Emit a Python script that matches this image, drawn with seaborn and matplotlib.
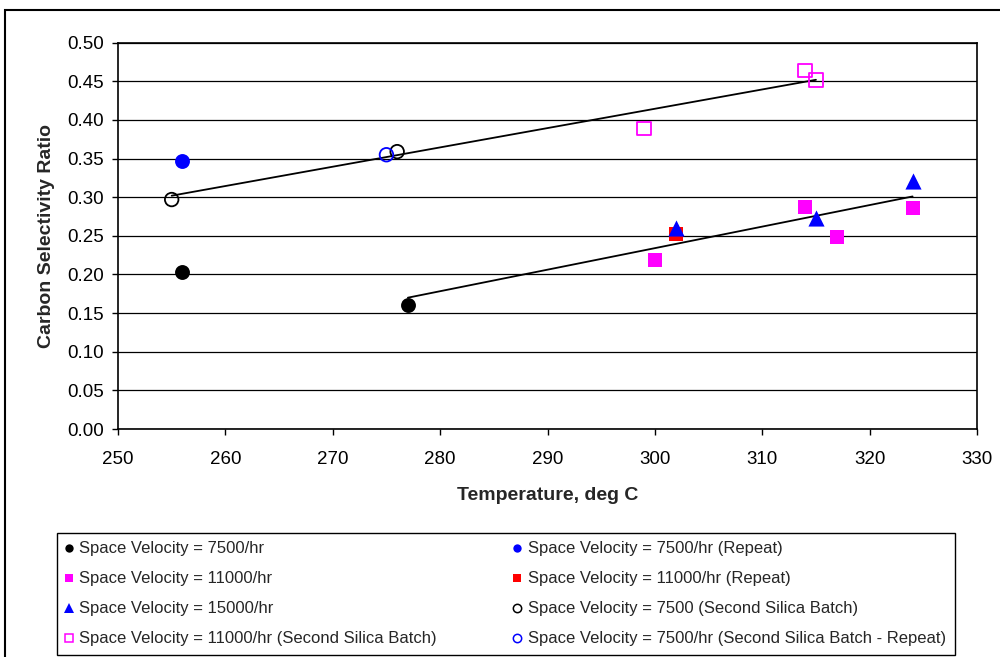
import matplotlib
matplotlib.use("Agg")
import matplotlib.pyplot as plt
from matplotlib.patches import Rectangle
import seaborn as sns

sns.set_theme(style="white")
plt.rcParams["font.family"] = ["Liberation Sans", "DejaVu Sans"]

# Measured carbon selectivity ratio vs. reactor temperature
sv7500_t = [256, 277]
sv7500_r = [0.203, 0.160]
sv7500_rep_t = [256]
sv7500_rep_r = [0.347]
sv11000_t = [300, 314, 317, 324]
sv11000_r = [0.219, 0.287, 0.249, 0.286]
sv11000_rep_t = [302]
sv11000_rep_r = [0.252]
sv15000_t = [302, 315, 324]
sv15000_r = [0.260, 0.273, 0.321]
sv7500_b2_t = [255, 276]
sv7500_b2_r = [0.297, 0.359]
sv11000_b2_t = [299, 314, 315]
sv11000_b2_r = [0.389, 0.464, 0.452]
sv7500_b2_rep_t = [275]
sv7500_b2_rep_r = [0.355]

# Linear trend lines (first silica batch, second silica batch)
trend1_t = [277, 324]
trend1_r = [0.170, 0.301]
trend2_t = [255, 315]
trend2_r = [0.302, 0.452]

labels = [
    "Space Velocity = 7500/hr",
    "Space Velocity = 7500/hr (Repeat)",
    "Space Velocity = 11000/hr",
    "Space Velocity = 11000/hr (Repeat)",
    "Space Velocity = 15000/hr",
    "Space Velocity = 7500 (Second Silica Batch)",
    "Space Velocity = 11000/hr (Second Silica Batch)",
    "Space Velocity = 7500/hr (Second Silica Batch - Repeat)",
]

x_ticks = [250, 260, 270, 280, 290, 300, 310, 320, 330]
y_ticks = [0.00, 0.05, 0.10, 0.15, 0.20, 0.25, 0.30, 0.35, 0.40, 0.45, 0.50]

fig = plt.figure(figsize=(10, 6.57), dpi=100)
ax = fig.add_axes([0.118, 0.347, 0.859, 0.588])

# horizontal gridlines
ax.set_axisbelow(True)
ax.yaxis.grid(True, color="black", linewidth=0.9)
ax.xaxis.grid(False)

# trend lines
sns.lineplot(x=trend1_t, y=trend1_r, color="black", linewidth=1.3, ax=ax, zorder=3)
sns.lineplot(x=trend2_t, y=trend2_r, color="black", linewidth=1.3, ax=ax, zorder=3)

series = [
    (sv7500_t, sv7500_r, "o", "black", True, 115),
    (sv7500_rep_t, sv7500_rep_r, "o", "#0000FF", True, 115),
    (sv11000_t, sv11000_r, "s", "#FF00FF", True, 110),
    (sv11000_rep_t, sv11000_rep_r, "s", "#FF0000", True, 110),
    (sv15000_t, sv15000_r, "^", "#0000FF", True, 135),
    (sv7500_b2_t, sv7500_b2_r, "o", "black", False, 95),
    (sv11000_b2_t, sv11000_b2_r, "s", "#FF00FF", False, 95),
    (sv7500_b2_rep_t, sv7500_b2_rep_r, "o", "#0000FF", False, 95),
]

handles = []
for (t, r, m, c, filled, s), lab in zip(series, labels):
    if filled:
        sns.scatterplot(x=t, y=r, marker=m, s=s, color=c, edgecolor=c,
                        linewidth=0, ax=ax, zorder=4, legend=False)
    else:
        sns.scatterplot(x=t, y=r, marker=m, s=s, facecolor="none", edgecolor=c,
                        linewidth=1.3, ax=ax, zorder=4, legend=False)
    h = plt.Line2D([], [], linestyle="none", marker=m, markersize=6 if m != "^" else 6.5,
                   markerfacecolor=c if filled else "white", markeredgecolor=c,
                   markeredgewidth=0 if filled else 1.1, label=lab)
    handles.append(h)

ax.set_xlim(250, 330)
ax.set_ylim(0, 0.5)
ax.set_xticks(x_ticks)
ax.set_yticks(y_ticks)
ax.set_xticklabels([str(v) for v in x_ticks])
ax.set_yticklabels([f"{v:.2f}" for v in y_ticks])
ax.tick_params(axis="both", which="major", labelsize=13.5, colors="black",
               direction="out", length=4, width=1, bottom=True, left=True)
ax.tick_params(axis="x", pad=12)
ax.tick_params(axis="y", pad=6)

for sp in ax.spines.values():
    sp.set_color("black")
    sp.set_linewidth(1.2)

ax.set_xlabel("Temperature, deg C", fontsize=14, fontweight="bold", labelpad=13.5)
ax.set_ylabel("Carbon Selectivity Ratio", fontsize=14, fontweight="bold", labelpad=9)

# legend laid out row by row in two columns
order = [0, 2, 4, 6, 1, 3, 5, 7]
leg = fig.legend([handles[i] for i in order], [labels[i] for i in order],
                 ncol=2, loc="lower left",
                 bbox_to_anchor=(0.057, 0.003),
                 fontsize=12.0, frameon=True, fancybox=False, framealpha=1,
                 edgecolor="black", labelspacing=0.9, handlelength=0.36,
                 handletextpad=0.46, borderpad=0.52, borderaxespad=0,
                 columnspacing=4.65)
leg.get_frame().set_linewidth(1.0)

# outer chart border
fig.patches.append(Rectangle((0.005, -0.1), 1.2, 1.0855, transform=fig.transFigure,
                             fill=False, edgecolor="black", linewidth=1.5))

fig.savefig("out.png", dpi=100, facecolor="white")
